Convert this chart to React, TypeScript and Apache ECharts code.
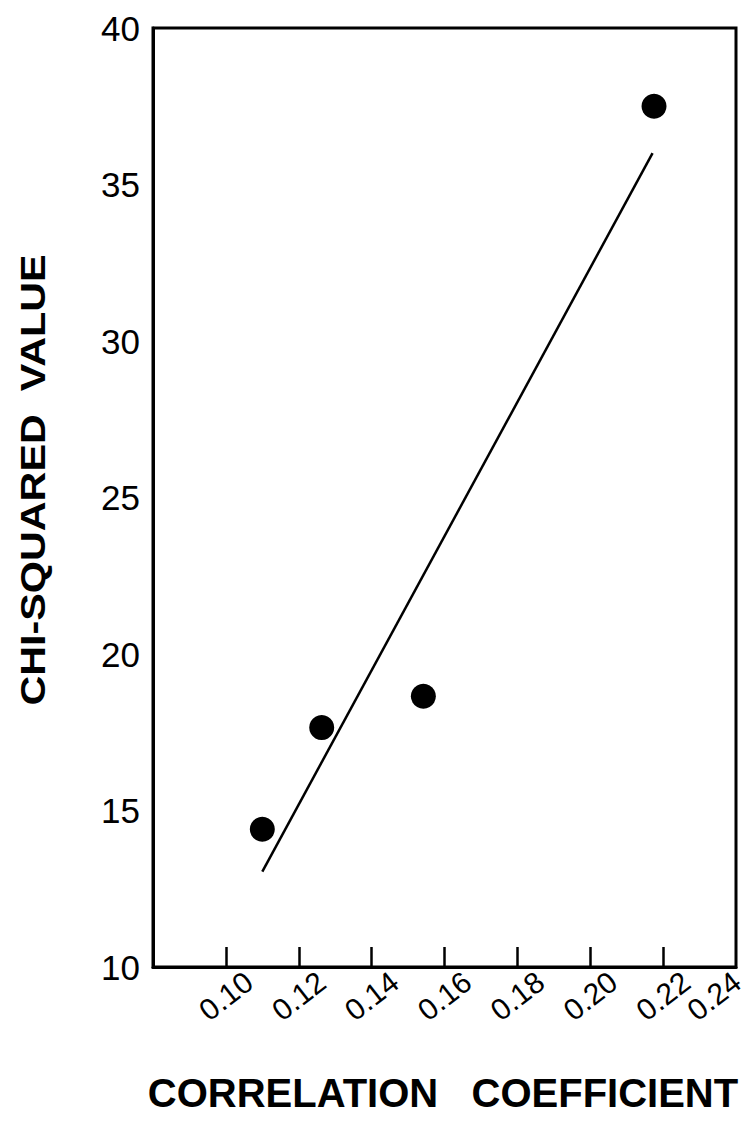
import React, { useEffect, useRef } from "react";
import * as echarts from "echarts";

const xTickLabels = ["0.10", "0.12", "0.14", "0.16", "0.18", "0.20", "0.22", "0.24"];
const yTickLabels = ["10", "15", "20", "25", "30", "35", "40"];
const corrCoef = [0.110, 0.1263, 0.1542, 0.2175];
const chiSquared = [14.4, 17.65, 18.65, 37.5];
const fitX = [0.110, 0.2171];
const fitY = [13.05, 36.0];

const FONT = "Liberation Sans";
const LABEL_ROT = 38;
const LABEL_MARGIN = 29;
const LABEL_SIZE = 30;

export default function App() {
  const ref = useRef<HTMLDivElement>(null);
  useEffect(() => {
    if (!ref.current) return;
    const chart = echarts.init(ref.current, null, { renderer: "svg" });
    const lastLabel = xTickLabels[xTickLabels.length - 1];
    const titles: any[] = [
      {
        id: "xtitle",
        type: "text",
        x: 443,
        y: 1093,
        style: {
          x: 0,
          y: 0,
          text: "CORRELATION   COEFFICIENT",
          fontFamily: FONT,
          fontWeight: "bold",
          fontSize: 40,
          fill: "#000",
          align: "center",
          verticalAlign: "middle",
        },
      },
      {
        id: "ytitle",
        type: "text",
        x: 33,
        y: 480,
        rotation: Math.PI / 2,
        scaleX: 1.18,
        style: {
          x: 0,
          y: 0,
          text: "CHI-SQUARED  VALUE",
          fontFamily: FONT,
          fontWeight: "bold",
          fontSize: 35,
          fill: "#000",
          align: "center",
          verticalAlign: "middle",
        },
      },
    ];
    chart.setOption({
      animation: false,
      backgroundColor: "#ffffff",
      grid: {
        left: 153,
        top: 28,
        right: 13,
        bottom: 166,
        containLabel: false,
        outerBoundsMode: "none",
        show: true,
        borderColor: "#000",
        borderWidth: 3,
        backgroundColor: "transparent",
      },
      xAxis: {
        type: "value",
        min: 0.08,
        max: 0.24,
        interval: 0.02,
        splitLine: { show: false },
        axisLine: { lineStyle: { color: "#000", width: 3 } },
        axisTick: { show: true, inside: true, length: 20, lineStyle: { color: "#000", width: 2.5 } },
        axisLabel: {
          rotate: LABEL_ROT,
          margin: LABEL_MARGIN,
          align: "center",
          verticalAlign: "middle",
          fontFamily: FONT,
          fontSize: LABEL_SIZE,
          color: "#000",
          showMinLabel: false,
          showMaxLabel: false,
          hideOverlap: false,
          formatter: (v: number) => {
            const s = v.toFixed(2);
            return xTickLabels.indexOf(s) >= 0 && s !== lastLabel ? s : "";
          },
        },
      },
      yAxis: {
        type: "value",
        min: 10,
        max: 40,
        interval: 5,
        splitLine: { show: false },
        axisLine: { show: true, lineStyle: { color: "#000", width: 3 } },
        axisTick: { show: false },
        axisLabel: {
          margin: 13,
          fontFamily: FONT,
          fontSize: 35,
          color: "#000",
          formatter: (v: number) => {
            const s = String(v);
            return yTickLabels.indexOf(s) >= 0 ? s : "";
          },
        },
      },
      graphic: titles,
      series: [
        {
          type: "line",
          data: fitX.map((x, i) => [x, fitY[i]]),
          showSymbol: false,
          lineStyle: { color: "#000", width: 2.5 },
          z: 2,
        },
        {
          type: "scatter",
          data: corrCoef.map((x, i) => [x, chiSquared[i]]),
          symbol: "circle",
          symbolSize: 25,
          itemStyle: { color: "#000", opacity: 1 },
          z: 3,
        },
      ],
    });
    // the last tick label sits on the right border; place it through the axis scale, nudged inward
    const px = chart.convertToPixel({ xAxisIndex: 0 }, parseFloat(lastLabel)) as number;
    const py = chart.convertToPixel({ yAxisIndex: 0 }, 10) as number;
    chart.setOption({
      graphic: [
        ...titles,
        {
          id: "lastXLabel",
          type: "text",
          x: px - 22,
          y: py + LABEL_MARGIN,
          rotation: (LABEL_ROT * Math.PI) / 180,
          style: {
            x: 0,
            y: 0,
            text: lastLabel,
            fontFamily: FONT,
            fontSize: LABEL_SIZE,
            fill: "#000",
            align: "center",
            verticalAlign: "middle",
          },
        },
      ],
    });
    return () => chart.dispose();
  }, []);
  return <div ref={ref} style={{ width: 749, height: 1133, position: "absolute", left: 0, top: 0 }} />;
}
